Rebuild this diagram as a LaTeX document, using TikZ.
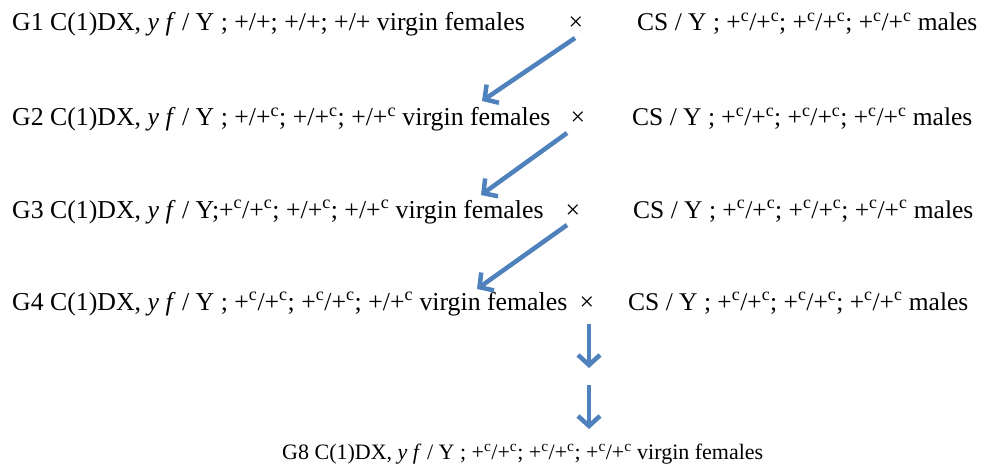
\documentclass[tikz,border=0pt]{standalone}
\usepackage{fontspec}
\setmainfont{Liberation Serif}
\usetikzlibrary{arrows.meta}
\definecolor{arrowblue}{HTML}{4F81BD}
\newcommand{\plusc}{+\textsuperscript{c}}
\newcommand{\yf}{\textit{y f}}
\begin{document}
\begin{tikzpicture}[x=1pt,y=-1pt,
  every node/.style={font=\fontsize{25.8}{30}\selectfont,inner sep=0pt,anchor=base west},
  cross/.style={anchor=base},
  males/.style={font=\fontsize{25.5}{30}\selectfont},
  result/.style={font=\fontsize{22}{26}\selectfont},
  bluearrow/.style={line width=4.5pt,arrowblue,-{Straight Barb[length=10pt,width=22pt]},
    preaction={draw=black!22,transform canvas={shift={(1.2pt,-1.5pt)}}}}]
\useasboundingbox (0,0) rectangle (982,468);
% G1 cross
\node (g1) at (12,31) {G1 C(1)DX, \yf{} / Y ; +/+; +/+; +/+ virgin females};
\node[cross] (x1) at (576,31) {×};
\node[males] (m1) at (637,31) {CS / Y ; \plusc/\plusc; \plusc/\plusc; \plusc/\plusc{} males};
% G2 cross
\node (g2) at (12,126) {G2 C(1)DX, \yf{} / Y ; +/\plusc; +/\plusc; +/\plusc{} virgin females};
\node[cross] (x2) at (578,126) {×};
\node[males] (m2) at (632,126) {CS / Y ; \plusc/\plusc; \plusc/\plusc; \plusc/\plusc{} males};
% G3 cross
\node (g3) at (12,218) {G3 C(1)DX, \yf{} / Y;\plusc/\plusc; +/\plusc; +/\plusc{} virgin females};
\node[cross] (x3) at (573,218) {×};
\node[males] (m3) at (633,218) {CS / Y ; \plusc/\plusc; \plusc/\plusc; \plusc/\plusc{} males};
% G4 cross
\node (g4) at (12,310) {G4 C(1)DX, \yf{} / Y ; \plusc/\plusc; \plusc/\plusc; +/\plusc{} virgin females};
\node[cross] (x4) at (587,310) {×};
\node[males] (m4) at (628,310) {CS / Y ; \plusc/\plusc; \plusc/\plusc; \plusc/\plusc{} males};
% G8 result
\node[result] (g8) at (282,459) {G8 C(1)DX, \yf{} / Y ; \plusc/\plusc; \plusc/\plusc; \plusc/\plusc{} virgin females};
% arrows between generations
\coordinate (a1) at (575,38);  \coordinate (b1) at (482,101);
\coordinate (a2) at (567,133); \coordinate (b2) at (481,195);
\coordinate (a3) at (567,225); \coordinate (b3) at (477,289);
\coordinate (a4) at (589,324); \coordinate (b4) at (589,368);
\coordinate (a5) at (589,385); \coordinate (b5) at (589,429);
\foreach \i in {1,...,5}
  \draw[bluearrow] (a\i) -- (b\i);
\end{tikzpicture}
\end{document}
